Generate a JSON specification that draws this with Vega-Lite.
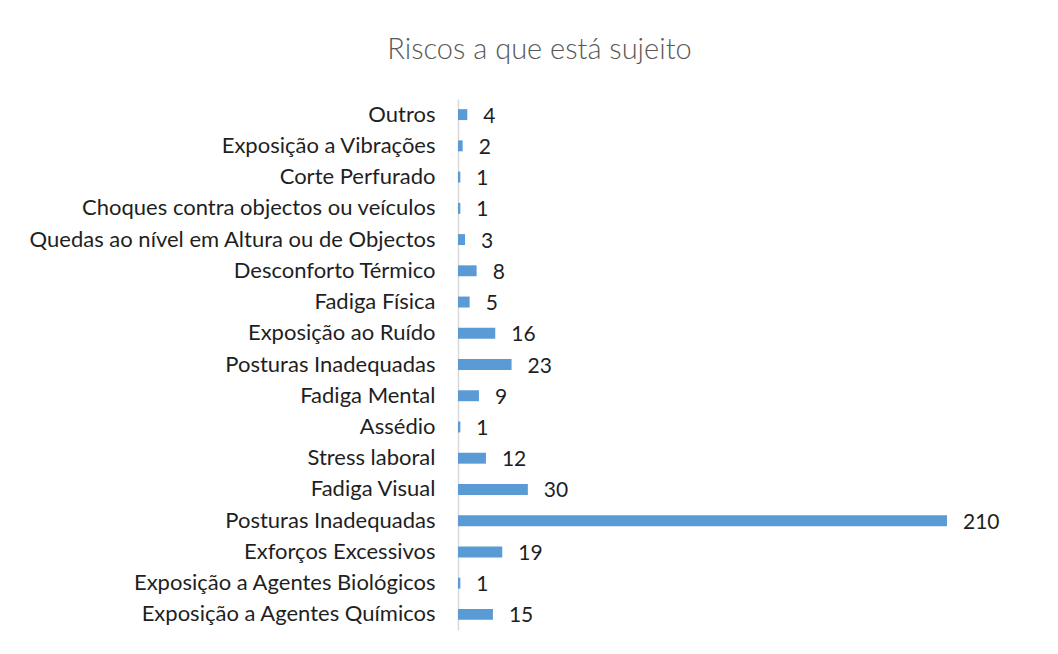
{
  "$schema": "https://vega.github.io/schema/vega-lite/v6.json",
  "width": 489,
  "height": 531,
  "autosize": {"type": "none"},
  "padding": {"left": 458, "top": 99, "right": 111, "bottom": 24},
  "background": "white",
  "title": {
    "text": "Riscos a que está sujeito",
    "font": "Lato",
    "fontWeight": 300,
    "fontSize": 29,
    "color": "#595959",
    "anchor": "middle",
    "dx": -163,
    "offset": 34
  },
  "data": {
    "values": [
      {"risco": "Outros", "total": 4},
      {"risco": "Exposição a Vibrações", "total": 2},
      {"risco": "Corte Perfurado", "total": 1},
      {"risco": "Choques contra objectos ou veículos", "total": 1},
      {"risco": "Quedas ao nível em Altura ou de Objectos", "total": 3},
      {"risco": "Desconforto Térmico", "total": 8},
      {"risco": "Fadiga Física", "total": 5},
      {"risco": "Exposição ao Ruído\u00a0", "total": 16},
      {"risco": "Posturas Inadequadas\u200b", "total": 23},
      {"risco": "Fadiga Mental", "total": 9},
      {"risco": "Assédio", "total": 1},
      {"risco": "Stress laboral", "total": 12},
      {"risco": "Fadiga Visual", "total": 30},
      {"risco": "Posturas Inadequadas", "total": 210},
      {"risco": "Exforços Excessivos", "total": 19},
      {"risco": "Exposição a Agentes Biológicos", "total": 1},
      {"risco": "Exposição a Agentes Químicos\u00a0", "total": 15}
    ]
  },
  "encoding": {
    "y": {
      "field": "risco",
      "type": "nominal",
      "sort": null,
      "scale": {"paddingInner": 0.65, "paddingOuter": 0.325},
      "axis": {
        "title": null,
        "ticks": false,
        "labelPadding": 23,
        "labelFont": "Lato",
        "labelFontSize": 22,
        "labelColor": "#1f1f1f",
        "labelLimit": 500,
        "domainColor": "#d9d9d9",
        "domainWidth": 1.5,
        "grid": false
      }
    },
    "x": {
      "field": "total",
      "type": "quantitative",
      "scale": {"domain": [0, 210], "nice": false},
      "axis": null
    }
  },
  "layer": [
    {"mark": {"type": "bar", "color": "#5b9bd5"}},
    {
      "mark": {
        "type": "text",
        "align": "left",
        "baseline": "middle",
        "dx": 16,
        "dy": 2,
        "font": "Lato",
        "fontSize": 21,
        "color": "#1f1f1f"
      },
      "encoding": {"text": {"field": "total", "type": "quantitative"}}
    }
  ],
  "config": {"view": {"stroke": null}}
}
